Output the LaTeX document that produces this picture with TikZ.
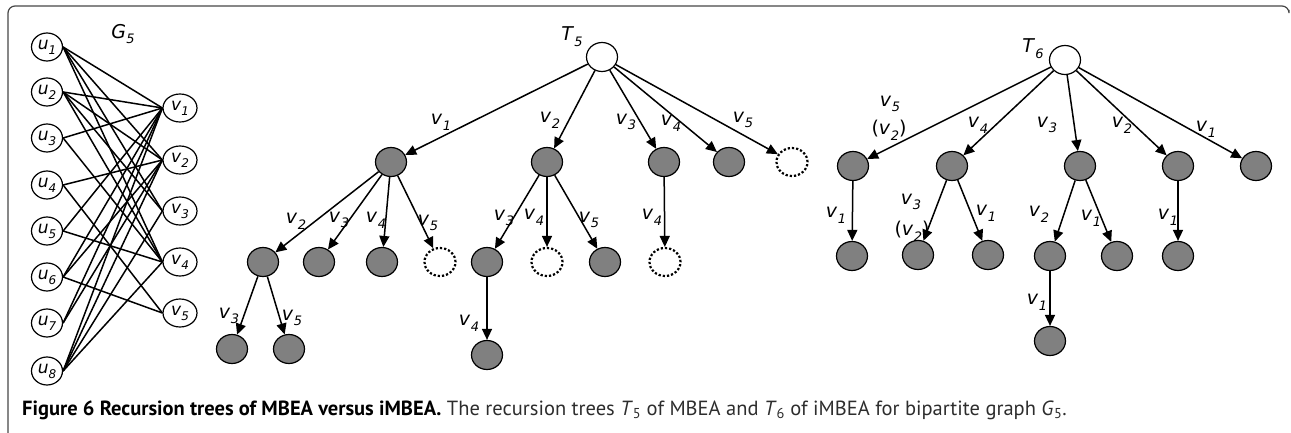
\documentclass[tikz,border=0pt]{standalone}
\usepackage{fontspec}
\setmainfont{DejaVu Sans}
\newfontfamily\capfont{PT Sans}
\usetikzlibrary{shapes.geometric,arrows.meta}
\definecolor{nodegray}{RGB}{128,128,128}
\definecolor{framegray}{RGB}{70,70,70}
\definecolor{captext}{RGB}{45,45,45}
\newcommand{\lbl}[2]{\textit{#1}\kern0.3pt\raisebox{-0.55ex}{\fontsize{13}{13}\selectfont\textit{#2}}}
\newcommand{\ulbl}[2]{\textit{#1}\raisebox{-0.55ex}{\fontsize{12}{12}\selectfont\textit{#2}}}
\tikzset{
  gnode/.style={ellipse, draw, fill=nodegray, line width=1.2pt, minimum width=31pt, minimum height=29pt, inner sep=0pt},
  dnode/.style={ellipse, draw, fill=white, line width=2.2pt, dotted, minimum width=31pt, minimum height=28pt, inner sep=0pt},
  rnode/.style={ellipse, draw, fill=white, line width=1.2pt, minimum width=31pt, minimum height=29pt, inner sep=0pt},
  gu/.style={ellipse, draw, line width=1.2pt, minimum width=31pt, minimum height=28pt, inner sep=0pt, font=\fontsize{17}{17}\selectfont},
  gv/.style={ellipse, draw, line width=1.2pt, minimum width=34pt, minimum height=28pt, inner sep=0pt, font=\fontsize{17}{17}\selectfont},
  lab/.style={inner sep=0pt, font=\fontsize{19}{19}\selectfont},
  arr/.style={line width=1.5pt, -{Triangle[length=11pt,width=10pt]}},
  gedge/.style={line width=1.5pt},
}
\begin{document}
\begin{tikzpicture}[x=1pt,y=-1pt]
\useasboundingbox (0,0) rectangle (1291,433);
% frame
\draw[framegray, line width=1.2pt, rounded corners=7pt] (8,433) -- (8,6) -- (1289,6) -- (1289,10);

% ---------- G5 ----------
\node[lab] (g5) at (123,34) {\lbl{G}{5}};
\foreach \i/\y in {1/47,2/92,3/138,4/185,5/231,6/277,7/323,8/371}{
  \node[gu] (u\i) at (47,\y) {\ulbl{u}{\i}};
}
\foreach \j/\y in {1/108,2/160,3/211,4/262,5/313}{
  \node[gv] (v\j) at (180,\y) {\ulbl{v}{\j}};
}
\foreach \a/\b in {1/1,1/2,1/3,1/4,2/1,2/2,2/3,2/4,3/1,3/4,4/2,4/5,5/1,5/4,6/1,6/2,6/5,7/1,7/2,8/1,8/2,8/3,8/4}{
  \draw[gedge] (u\a.east) -- (v\b.west);
}

% ---------- T5 ----------
\node[lab] (t5) at (572,37) {\lbl{T}{5}};
\node[rnode] (r5) at (602,57) {};
\node[gnode] (a1) at (391,162) {};
\node[gnode] (a2) at (547,162) {};
\node[gnode] (a3) at (664,162) {};
\node[gnode] (a4) at (729,162) {};
\node[dnode] (a5) at (792,162) {};
\node[gnode] (b12) at (263,262) {};
\node[gnode] (b13) at (319,262) {};
\node[gnode] (b14) at (382,262) {};
\node[dnode] (b15) at (440,262) {};
\node[gnode] (b23) at (487,262) {};
\node[dnode] (b24) at (547,262) {};
\node[gnode] (b25) at (605,262) {};
\node[dnode] (b34) at (665,262) {};
\node[gnode] (c123) at (232,349) {};
\node[gnode] (c125) at (289,349) {};
\node[gnode] (c234) at (487,355) {};

\foreach \s/\t in {r5/a1,r5/a2,r5/a3,r5/a4,r5/a5,a1/b12,a1/b13,a1/b14,a1/b15,a2/b23,a2/b24,a2/b25,a3/b34,b12/c123,b12/c125,b23/c234}{
  \draw[arr] (\s) -- (\t);
}
\node[lab] (l5a1) at (441,122) {\lbl{v}{1}};
\node[lab] (l5a2) at (550,120) {\lbl{v}{2}};
\node[lab] (l5a3) at (626,122) {\lbl{v}{3}};
\node[lab] (l5a4) at (671,123) {\lbl{v}{4}};
\node[lab] (l5a5) at (743,120) {\lbl{v}{5}};
\node[lab] (l5b12) at (296,221) {\lbl{v}{2}};
\node[lab] (l5b13) at (339,220) {\lbl{v}{3}};
\node[lab] (l5b14) at (376,220) {\lbl{v}{4}};
\node[lab] (l5b15) at (428,223) {\lbl{v}{5}};
\node[lab] (l5b23) at (504,218) {\lbl{v}{3}};
\node[lab] (l5b24) at (534,217) {\lbl{v}{4}};
\node[lab] (l5b25) at (589,220) {\lbl{v}{5}};
\node[lab] (l5b34) at (652,217) {\lbl{v}{4}};
\node[lab] (l5c123) at (229,316) {\lbl{v}{3}};
\node[lab] (l5c125) at (292,318) {\lbl{v}{5}};
\node[lab] (l5c234) at (469,323) {\lbl{v}{4}};

% ---------- T6 ----------
\node[lab] (t6) at (1033,49) {\lbl{T}{6}};
\node[rnode] (r6) at (1065,60) {};
\node[gnode] (d5) at (853,166) {};
\node[gnode] (d4) at (952,166) {};
\node[gnode] (d3) at (1080,166) {};
\node[gnode] (d2) at (1178,166) {};
\node[gnode] (d1) at (1256,166) {};
\node[gnode] (e51) at (852,256) {};
\node[gnode] (e43) at (918,255) {};
\node[gnode] (e41) at (988,255) {};
\node[gnode] (e32) at (1050,256) {};
\node[gnode] (e31) at (1117,256) {};
\node[gnode] (e21) at (1178,256) {};
\node[gnode] (f321) at (1050,341) {};
\foreach \s/\t in {r6/d5,r6/d4,r6/d3,r6/d2,r6/d1,d5/e51,d4/e43,d4/e41,d3/e32,d3/e31,d2/e21,e32/f321}{
  \draw[arr] (\s) -- (\t);
}
\node[lab] (l6d5) at (890,104) {\lbl{v}{5}};
\node[lab] (l6d5b) at (889,130) {(\lbl{v}{2})};
\node[lab] (l6d4) at (978,125) {\lbl{v}{4}};
\node[lab] (l6d3) at (1047,125) {\lbl{v}{3}};
\node[lab] (l6d2) at (1122,125) {\lbl{v}{2}};
\node[lab] (l6d1) at (1206,129) {\lbl{v}{1}};
\node[lab] (l6e51) at (836,215) {\lbl{v}{1}};
\node[lab] (l6e43) at (911,202) {\lbl{v}{3}};
\node[lab] (l6e43b) at (912,231) {(\lbl{v}{2})};
\node[lab] (l6e41) at (986,213) {\lbl{v}{1}};
\node[lab] (l6e32) at (1039,214) {\lbl{v}{2}};
\node[lab] (l6e31) at (1091,218) {\lbl{v}{1}};
\node[lab] (l6e21) at (1168,217) {\lbl{v}{1}};
\node[lab] (l6f321) at (1037,302) {\lbl{v}{1}};

% ---------- caption ----------
\node[anchor=base west, inner sep=0pt, font=\capfont\fontsize{20.5}{20.5}\selectfont, text=captext] (cap) at (22,415)
  {\textbf{\color{black}Figure 6 Recursion trees of MBEA versus iMBEA.} The recursion trees \textit{T}\textsubscript{5} of MBEA and \textit{T}\textsubscript{6} of iMBEA for bipartite graph \textit{G}\textsubscript{5}.};
\end{tikzpicture}
\end{document}
